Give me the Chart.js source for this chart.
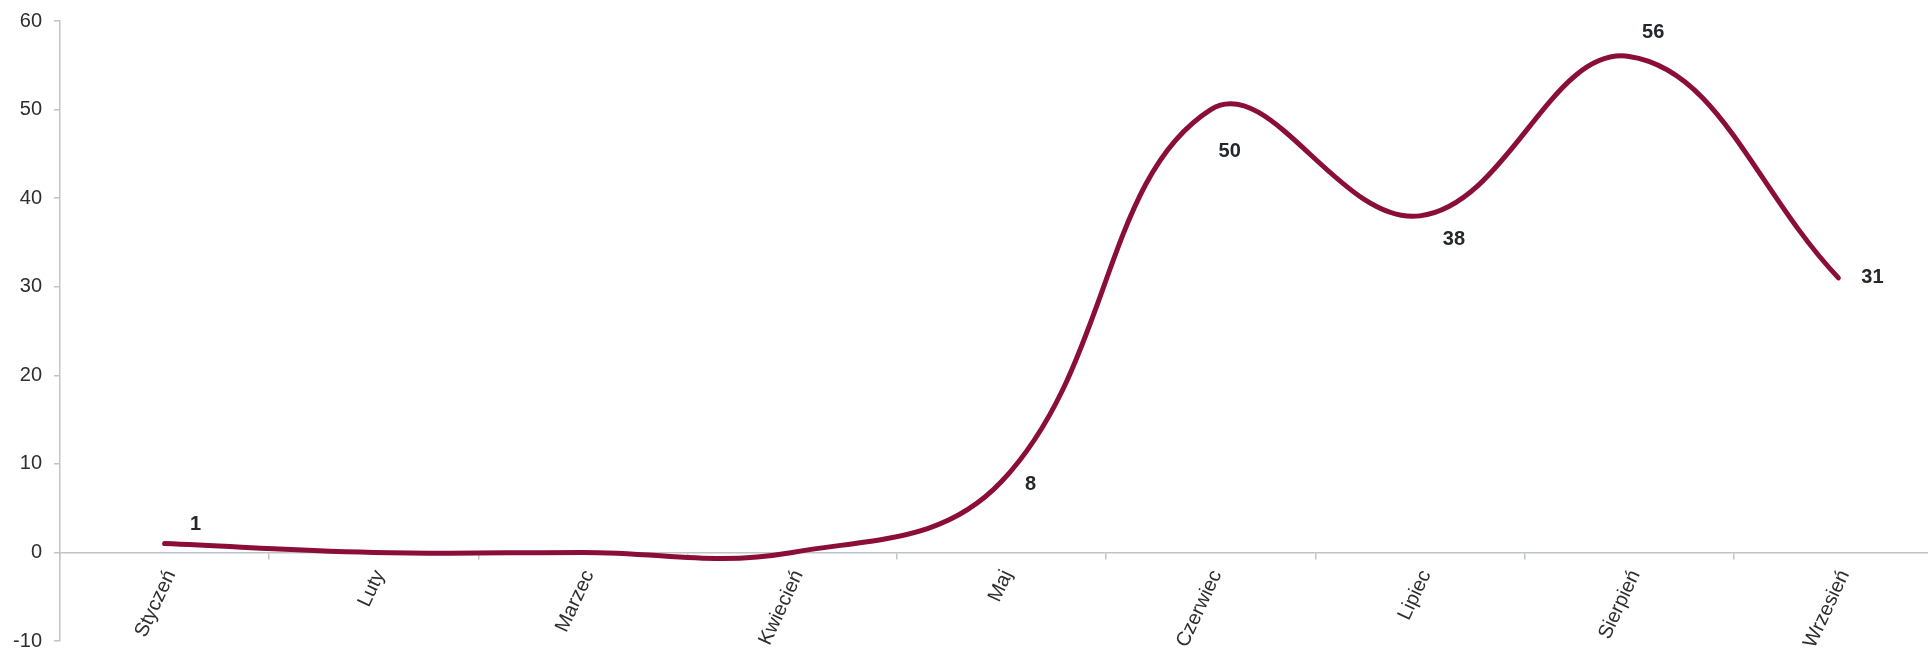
<!DOCTYPE html>
<html>
<head>
<meta charset="utf-8">
<script src="https://cdn.jsdelivr.net/npm/chart.js@4/dist/chart.umd.min.js"></script>
<style>
  html, body { margin: 0; padding: 0; overflow: hidden; background: #ffffff; }
  #wrap { position: relative; width: 1946px; height: 652px; }
</style>
</head>
<body>
<div id="wrap"><canvas id="chart"></canvas></div>
<script>
// Monthly series
const months = ['Styczeń', 'Luty', 'Marzec', 'Kwiecień', 'Maj', 'Czerwiec', 'Lipiec', 'Sierpień', 'Wrzesień'];
const values = [1, 0, 0, 0, 8, 50, 38, 56, 31];

// Value axis range
const yMin = -10;
const yMax = 60;
const yStep = 10;

const AXIS_GREY = '#bfc5cb';
const TEXT_GREY = '#2e2e2e';
const LINE_COLOR = '#8a0e38';
const FONT_FAMILY = '"Liberation Sans", Arial, sans-serif';

// Draws the value next to each non-zero point
const valueLabels = {
  id: 'valueLabels',
  afterDatasetsDraw(chart, args, opts) {
    const ctx = chart.ctx;
    const meta = chart.getDatasetMeta(0);
    const data = chart.data.datasets[0].data;
    ctx.save();
    ctx.font = opts.font;
    ctx.fillStyle = opts.color;
    ctx.textAlign = 'center';
    ctx.textBaseline = 'middle';
    meta.data.forEach((pt, i) => {
      const v = data[i];
      if (v === 0) return;
      const off = opts.offsets[i] || [0, 0];
      ctx.fillText(String(v), pt.x + off[0], pt.y + off[1]);
    });
    ctx.restore();
  }
};

// The axes take no extra room: the plot area is set by the layout padding alone
function noExtraRoom(scale) {
  scale.paddingTop = 0;
  scale.paddingBottom = 0;
  scale.paddingLeft = 0;
  scale.paddingRight = 0;
}

new Chart(document.getElementById('chart'), {
  type: 'line',
  data: {
    labels: months,
    datasets: [{
      data: values,
      borderColor: LINE_COLOR,
      borderWidth: 5,
      borderCapStyle: 'round',
      borderJoinStyle: 'round',
      tension: 0.4,
      pointRadius: 0,
      pointHoverRadius: 0,
      fill: false,
      clip: false
    }]
  },
  options: {
    responsive: true,
    maintainAspectRatio: false,
    animation: false,
    layout: { padding: { top: 21, bottom: 11, left: 0, right: 3 } },
    plugins: {
      legend: { display: false },
      tooltip: { enabled: false },
      valueLabels: {
        font: 'bold 20px ' + FONT_FAMILY,
        color: '#24282c',
        offsets: [[31, -19], [0, 0], [0, 0], [0, 0], [29, 3], [19, 42], [34, 24], [24, -24], [34, 0]]
      }
    },
    scales: {
      x: {
        position: { y: 0 },
        offset: true,
        afterFit(scale) { scale.height = 0; noExtraRoom(scale); },
        grid: {
          offset: true,
          drawOnChartArea: false,
          drawTicks: true,
          tickLength: 6,
          color: AXIS_GREY,
          lineWidth: 1.5
        },
        border: { display: true, color: AXIS_GREY, width: 1.5 },
        ticks: {
          autoSkip: false,
          minRotation: 65,
          maxRotation: 65,
          padding: 8,
          labelOffset: 6,
          color: TEXT_GREY,
          font: { family: FONT_FAMILY, size: 20 }
        }
      },
      y: {
        min: yMin,
        max: yMax,
        afterFit(scale) { scale.width = 60; noExtraRoom(scale); },
        grid: {
          drawOnChartArea: false,
          drawTicks: true,
          tickLength: 6,
          color: AXIS_GREY,
          lineWidth: 1.5
        },
        border: { display: true, color: AXIS_GREY, width: 1.5 },
        ticks: {
          stepSize: yStep,
          padding: 12,
          color: TEXT_GREY,
          font: { family: FONT_FAMILY, size: 20 }
        }
      }
    }
  },
  plugins: [valueLabels]
});
</script>
</body>
</html>
